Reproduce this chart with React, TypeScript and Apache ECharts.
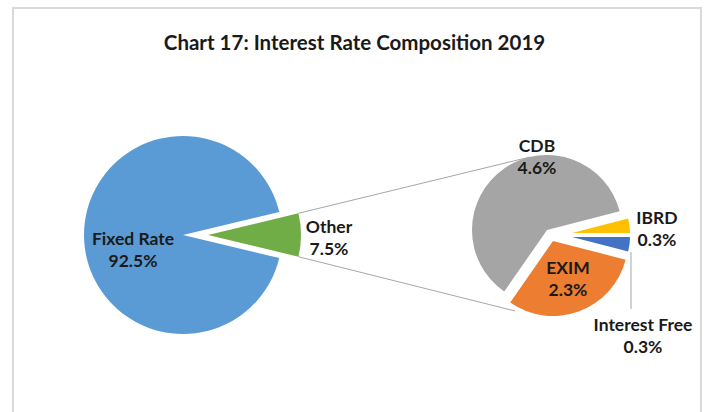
import React, { useEffect, useRef } from "react";
import * as echarts from "echarts";

const titleText = "Chart 17: Interest Rate Composition 2019";
const leftNames = ["Other", "Fixed Rate"];
const leftValues = [7.5, 92.5];
const rightNames = ["IBRD", "Interest Free", "EXIM", "CDB"];
const rightValues = [0.3, 0.3, 2.3, 4.6];

const colors: Record<string, string> = {
  "Fixed Rate": "#5b9bd5",
  Other: "#70ad47",
  CDB: "#a5a5a5",
  EXIM: "#ed7d31",
  IBRD: "#ffc000",
  "Interest Free": "#4472c4",
};

// layout of each visible slice (center, radius, label anchor)
const layout: Record<string, { c: number[]; r: number; lab: number[] }> = {
  "Fixed Rate": { c: [183, 235], r: 99, lab: [133, 249] },
  Other: { c: [208, 235], r: 93, lab: [329, 237] },
  CDB: { c: [547, 230], r: 75, lab: [537, 156] },
  EXIM: { c: [553, 241], r: 75, lab: [568, 278] },
  IBRD: { c: [572, 233], r: 58, lab: [657, 228] },
  "Interest Free": { c: [572, 237], r: 58, lab: [643, 335] },
};

const FONT = "Lato";

function layer(names: string[], values: number[], show: string, startAngle: number) {
  const L = layout[show];
  const idx = names.indexOf(show);
  return {
    type: "pie",
    center: L.c,
    radius: L.r,
    startAngle,
    clockwise: true,
    silent: true,
    avoidLabelOverlap: false,
    minAngle: 0,
    emphasis: { disabled: true },
    labelLine: { show: false },
    label: { show: false },
    data: names.map((n, i) => ({
      name: n,
      value: values[i],
      itemStyle: {
        color: n === show ? colors[n] : "rgba(0,0,0,0)",
        borderWidth: 0,
      },
      label:
        n === show
          ? {
              show: true,
              position: "inside",
              formatter: `${n}\n${values[i].toFixed(1)}%`,
              fontFamily: FONT,
              fontWeight: "bold",
              fontSize: 17.5,
              lineHeight: 22,
              color: "#1a1a1a",
              align: "center",
            }
          : { show: false },
    })),
    labelLayout: (p: any) =>
      p.dataIndex === idx
        ? { x: L.lab[0], y: L.lab[1], align: "center", verticalAlign: "middle" }
        : {},
  };
}

export default function App() {
  const ref = useRef<HTMLDivElement>(null);
  useEffect(() => {
    if (!ref.current) return;
    const chart = echarts.init(ref.current, null, { renderer: "svg" });
    const leftStart = (leftValues[0] / 2 / leftValues.reduce((a, b) => a + b, 0)) * 360;
    const rightTotal = rightValues.reduce((a, b) => a + b, 0);
    const rightStart = (rightValues[0] / rightTotal) * 360;

    const o = layout.Other;
    const half = (leftStart * Math.PI) / 180;
    const gx = o.c[0] + o.r * Math.cos(half);
    const gTop = o.c[1] - o.r * Math.sin(half);
    const gBot = o.c[1] + o.r * Math.sin(half);

    chart.setOption({
      animation: false,
      backgroundColor: "#ffffff",
      title: {
        text: titleText,
        left: "center",
        top: 26,
        textStyle: { fontFamily: FONT, fontWeight: "bold", fontSize: 20.5, color: "#1a1a1a" },
      },
      graphic: [
        {
          type: "rect",
          shape: { x: 13, y: 8, width: 688, height: 420 },
          style: { fill: "none", stroke: "#d9d9d9", lineWidth: 2 },
          silent: true,
        },
        {
          type: "line",
          shape: { x1: gx, y1: gTop, x2: 530, y2: 157 },
          style: { stroke: "#a6a6a6", lineWidth: 1 },
          silent: true,
        },
        {
          type: "line",
          shape: { x1: gx, y1: gBot, x2: 515, y2: 311 },
          style: { stroke: "#a6a6a6", lineWidth: 1 },
          silent: true,
        },
        {
          type: "line",
          shape: { x1: 631, y1: 252, x2: 631, y2: 309 },
          style: { stroke: "#a6a6a6", lineWidth: 1 },
          silent: true,
        },
      ],
      series: [
        layer(leftNames, leftValues, "Fixed Rate", leftStart),
        layer(leftNames, leftValues, "Other", leftStart),
        layer(rightNames, rightValues, "CDB", rightStart),
        layer(rightNames, rightValues, "EXIM", rightStart),
        layer(rightNames, rightValues, "IBRD", rightStart),
        layer(rightNames, rightValues, "Interest Free", rightStart),
      ],
    });
    return () => chart.dispose();
  }, []);
  return (
    <div
      ref={ref}
      style={{ position: "fixed", left: 0, top: 0, width: 709, height: 412, background: "#fff" }}
    />
  );
}
